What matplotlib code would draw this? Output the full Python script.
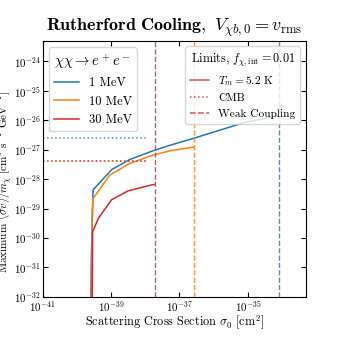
import numpy as np
import matplotlib.pyplot as plt

plt.rcParams['font.family'] = 'cmr10'
plt.rcParams['mathtext.fontset'] = 'cm'
plt.rcParams['axes.formatter.use_mathtext'] = True
plt.rcParams['xtick.direction'] = 'in'
plt.rcParams['ytick.direction'] = 'in'
plt.rcParams['xtick.top'] = True
plt.rcParams['ytick.right'] = True

# ---- data ----
sigma_1 = [2.5e-40, 2.7e-40, 3.0e-40, 1.05e-39, 3.5e-39, 1.66e-38, 5.2e-38, 2.5e-37, 8.9e-36, 7.9e-35]
sv_1 = [1e-33, 3.2e-31, 4.3e-29, 2.1e-28, 4.6e-28, 9.1e-28, 1.4e-27, 2.4e-27, 8.7e-27, 1.4e-26]

sigma_10 = [2.6e-40, 2.8e-40, 3.0e-40, 9.3e-40, 3.5e-39, 1.66e-38, 5.2e-38, 2.6e-37]
sv_10 = [1e-33, 6e-30, 2.2e-29, 1.38e-28, 3.4e-28, 6.5e-28, 9.1e-28, 1.23e-27]

sigma_30 = [2.8e-40, 2.9e-40, 4.3e-40, 1.05e-39, 3.2e-39, 1.5e-38, 1.9e-38]
sv_30 = [1e-33, 1.6e-30, 4.7e-30, 2.0e-29, 4.0e-29, 6.3e-29, 6.6e-29]

masses = ['1 MeV', '10 MeV', '30 MeV']
colors = ['#1f77b4', '#ff7f0e', '#d62728']
cmb_limit = [2.5e-27, 4.2e-28, 4.2e-28]
cmb_xmax = [1.1e-38, 1.2e-38, 1.2e-38]
weak_coupling = [7.9e-35, 2.6e-37, 1.9e-38]

fig = plt.figure(figsize=(3.4, 3.4), dpi=100)
ax = fig.add_axes([0.125, 0.127, 0.775, 0.753])

curves = []
for s, v, c, lab in zip([sigma_1, sigma_10, sigma_30], [sv_1, sv_10, sv_30], colors, masses):
    l, = ax.plot(s, v, color=c, lw=1.1, label=lab)
    curves.append(l)

for c, y, xm, xw in zip(colors, cmb_limit, cmb_xmax, weak_coupling):
    ax.plot([1e-41, xm], [y, y], color=c, ls=':', lw=1.1, alpha=0.8)
    ax.axvline(xw, color=c, ls='--', lw=1.0, alpha=0.8)

ax.set_xscale('log')
ax.set_yscale('log')
ax.set_xlim(1e-41, 5e-34)
ax.set_ylim(1e-32, 5e-24)
ax.set_xticks([1e-41, 1e-39, 1e-37, 1e-35])
ax.set_yticks([10.0**k for k in range(-32, -23)])
ax.minorticks_off()
ax.tick_params(labelsize=7.8, pad=1.5)

ax.set_xlabel(r'Scattering Cross Section $\sigma_0$ [cm$^2$]', fontsize=8.8)
ax.xaxis.set_label_coords(0.5, -0.065)
ax.set_ylabel(r'Maximum $\langle \sigma v \rangle / m_\chi$ [cm$^3$ s$^{-1}$ GeV$^{-1}$]', fontsize=8.0)
ax.yaxis.set_label_coords(-0.11, 0.45)
ax.set_title(r'$\mathbf{Rutherford\ Cooling,}\ V_{\chi b,0} = v_{\rm rms}$', fontsize=13, pad=7)

leg1 = ax.legend(handles=curves, title=r'$\chi\chi \to e^+e^-$', loc='upper left',
                 fontsize=9, title_fontsize=10.5)
ax.add_artist(leg1)

h1, = ax.plot([], [], color='#d62728', ls='-', lw=1.1, alpha=0.8)
h2, = ax.plot([], [], color='#d62728', ls=':', lw=1.1, alpha=0.8)
h3, = ax.plot([], [], color='#d62728', ls='--', lw=1.1, alpha=0.8)
ax.legend([h1, h2, h3], [r'$T_m = 5.2$ K', 'CMB', 'Weak Coupling'],
          title=r'Limits, $f_{\chi,\rm int} = 0.01$', loc='upper right',
          fontsize=8.2, title_fontsize=8.8, handlelength=1.7)

fig.savefig('out.png', dpi=100)
